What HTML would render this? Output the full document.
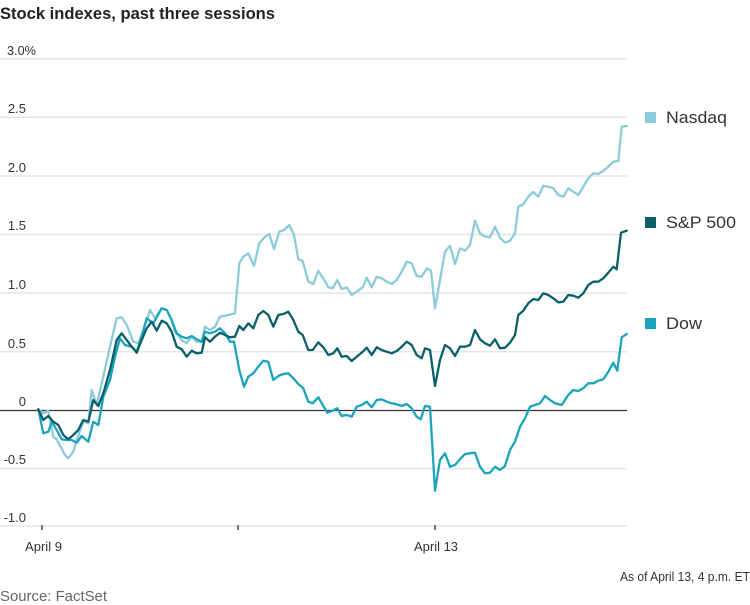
<!DOCTYPE html>
<html><head><meta charset="utf-8"><style>
html,body{margin:0;padding:0;background:#fff;width:750px;height:605px;overflow:hidden}
svg{display:block}
text{font-family:"Liberation Sans",sans-serif}
</style></head><body>
<svg width="750" height="605" viewBox="0 0 750 605" xmlns="http://www.w3.org/2000/svg">
<text x="0" y="19" font-size="17" font-weight="bold" fill="#222" textLength="275" lengthAdjust="spacingAndGlyphs">Stock indexes, past three sessions</text>
<g stroke="#e6e6e6" stroke-width="1.5">
<line x1="0" x2="627" y1="58.7" y2="58.7"/>
<line x1="0" x2="627" y1="117.3" y2="117.3"/>
<line x1="0" x2="627" y1="176" y2="176"/>
<line x1="0" x2="627" y1="234.5" y2="234.5"/>
<line x1="0" x2="627" y1="293" y2="293"/>
<line x1="0" x2="627" y1="351.7" y2="351.7"/>
<line x1="0" x2="627" y1="468.5" y2="468.5"/>
<line x1="0" x2="627" y1="526" y2="526"/>
</g>
<g font-size="13" fill="#333">
<text x="7" y="55" textLength="29" lengthAdjust="spacingAndGlyphs">3.0%</text>
<g text-anchor="end">
<text x="26" y="113">2.5</text>
<text x="26" y="172">2.0</text>
<text x="26" y="230">1.5</text>
<text x="26" y="289">1.0</text>
<text x="26" y="348">0.5</text>
<text x="26" y="406">0</text>
<text x="26" y="464">-0.5</text>
<text x="26" y="522">-1.0</text>
</g>
<text x="25" y="551" textLength="37" lengthAdjust="spacingAndGlyphs">April 9</text>
<text x="414" y="551" textLength="44" lengthAdjust="spacingAndGlyphs">April 13</text>
<text x="620" y="581" textLength="130" lengthAdjust="spacingAndGlyphs">As of April 13, 4 p.m. ET</text>
</g>
<text x="0" y="601" font-size="15" fill="#666" textLength="107" lengthAdjust="spacingAndGlyphs">Source: FactSet</text>
<g stroke="#777" stroke-width="2">
<line x1="42" x2="42" y1="525" y2="530"/>
<line x1="238" x2="238" y1="525" y2="530"/>
<line x1="435" x2="435" y1="525" y2="530"/>
</g>
<line x1="0" x2="627" y1="410.5" y2="410.5" stroke="#333" stroke-width="1.3"/>
<g fill="none" stroke-width="2.3" stroke-linejoin="round" stroke-linecap="round">
<polyline stroke="#8ccbd9" points="38.3,409.3 43.3,413.3 48.3,410.7 53.3,436.7 56.7,439.3 65,455 68.3,458.3 73.3,451.7 76.7,440 83.3,421.7 88.3,423.3 91.7,390 96.7,405 101.7,383.3 110,346.7 116.7,318.3 121.7,317.3 126.7,325 133.3,341.7 138.3,343.3 143.3,330 150,310 155,318.3 161.7,308.3 166.7,310 171.7,320 175,331.7 181.7,340 186.7,343.3 191.7,336.7 196.7,341.7 201.7,341.7 205,326.7 210,330 215,326.7 220,316.7 228.3,315 235,313.3 239.3,263.3 243.3,256.7 248.3,253.3 254,266 259.3,243.3 265,236.7 269.3,234 274,249 279.3,231.7 284,230 289.3,225 294,235 298.3,259.3 302.7,261 308.3,281.7 313.3,284 318.3,271 323.3,278.3 328.3,287.3 332.7,288.3 337.3,280 341.7,289 346.7,287.3 351.7,295 356.7,291.7 362.7,287.3 366.7,277.7 371.7,287.3 376.7,276.7 381.7,278.3 386.7,281.7 391.7,284 396.7,280 401.7,271.7 406.7,261.7 411.7,263.3 416.7,276 421.7,276.7 426.7,268.3 431,270.7 435,308.3 440,280 445,251.7 450,245.7 455,264 460,248.3 465,250.7 470,245 475,220.7 480,233.3 485,236.7 490,237.3 495,226.7 500,237.7 505,242.7 510,240.7 515,233.3 518.3,206.7 523.3,204.3 528.3,196.7 533.3,192 538.3,196.7 543.3,185.7 548.3,186.7 553.3,188.3 558.3,195 563.3,196.7 568.3,188.3 573.3,191.7 578.3,195 583.3,186.7 588.3,178.3 593.3,173.3 598.3,174 603.3,170.7 608.3,166.7 613.3,161.7 618.3,161 621.7,126.7 626.7,126"/>
<polyline stroke="#1aa4bb" points="38.3,409.3 43.3,433.3 48.3,431.7 51.7,421.7 56.7,430 61.7,439.3 66.7,440 71.7,440 76.7,442.7 81.7,436 88.3,441.7 93.3,421.7 98.3,425 103.3,396.7 110,380 115,356.7 120,338.3 125,345 131.7,346.7 136.7,351.7 141.7,336.7 146.7,318.3 153.3,323.3 161.7,308.3 166.7,310 171.7,320 176.7,333.3 181.7,336.7 186.7,338.3 191.7,336 196.7,339.3 201.7,341.7 205,331.7 210,333.3 215,331.7 220,328.3 225,333.3 230,341.7 234,341.7 239.3,370 244,386.7 248.3,376.7 253.3,373.3 258.3,366.7 263.3,360.7 268.3,361.7 273.3,380 278.3,376 283.3,374 288.3,373.3 293.3,378.3 298.3,384 303.3,388.3 308.3,401.7 312.7,403.3 318.3,397.3 323.3,406 327.3,412.7 332.7,410.7 337.3,408.3 341.7,416 346.7,415 351.7,416.7 356.7,406.7 361.7,405 366.7,401.7 371.7,407.3 376.7,400 381.7,399.3 386.7,401.7 391.7,403.3 396.7,404.3 401.7,406 406.7,404 411.7,408.3 416.7,416.7 420.7,419.3 425,406 430,406.7 435,490.7 440,460 445,453.3 450,466.7 455,465 460,459.3 465,454 470,453.3 475,452.7 480,466.7 485,473.3 490,472.7 495,466.7 500,470 505,466 510,450 515,441.7 520,426.7 525,418.3 530,406.7 535,405 540,403.3 545,396 550,400 555,403.3 561.7,405 568.3,395 573.3,390 578.3,391 583.3,388.3 588.3,383.3 593.3,383.3 598.3,380.7 603.3,379.3 608.3,371.7 613.3,362.7 617.3,370.7 621.7,337.3 626.7,334"/>
<polyline stroke="#0b5f69" points="38.3,409.3 43.3,420 48.3,416 53.3,421.7 58.3,425 63.3,435 68.3,439.3 73.3,435 78.3,430 83.3,420 88.3,421.7 93.3,400 98.3,406 103.3,393.3 110,370 116.7,340 121.7,333.3 126.7,340 131.7,346.7 136.7,352.7 141.7,340 146.7,328.3 151.7,321.7 156.7,330.7 161.7,320.7 166.7,323.3 171.7,331.7 176.7,346.7 181.7,349.3 186.7,356.7 191.7,350.7 196.7,353.3 201.7,352.7 205,337.3 210,341.7 215,336.7 220,332.7 225,335 230,337.3 235,336.7 239.3,326 243.3,330 248.3,323.3 253.3,328.3 258.3,315 263.3,311 268.3,315 273.3,326.7 278.3,315 283.3,314 288.3,311.7 293.3,320 298.3,331.7 302.7,335 308.3,350 312.7,350 318.3,342.3 323.3,347.3 328.3,355 333.3,353.3 337.3,348.3 341.7,356.7 346.7,356 351.7,361 356.7,356.7 362.7,351.7 366.7,347.7 371.7,355 376.7,347.3 381.7,350 386.7,351.7 391.7,353.3 396.7,351 401.7,346.7 406.7,341.7 411.7,345 416.7,355 421.7,358.3 425,348.3 430,350 435,386 440,360 445,345 450,348.3 455,356 460,346.7 465,346.7 470,345 475,330 480,339.3 485,343.3 490,345.7 495,339.3 500,348.3 505,347.7 510,342.7 515,335 518.3,315 523.3,310.7 528.3,303.3 533.3,299 538.3,300 543.3,293.3 548.3,295 553.3,298.3 558.3,302.3 563.3,301.7 568.3,295 573.3,295.7 578.3,297.7 583.3,293.3 588.3,285 593.3,281.7 598.3,281.7 603.3,278.3 608.3,272.7 613.3,266.7 616.7,269.3 621,232.7 626.7,230.7"/>
</g>
<rect x="645" y="112" width="11" height="11" fill="#8ccbd9"/>
<rect x="645" y="217" width="11" height="11" fill="#0b5f69"/>
<rect x="645" y="318" width="11" height="11" fill="#1aa4bb"/>
<g font-size="17" fill="#333">
<text x="666" y="123" textLength="61" lengthAdjust="spacingAndGlyphs">Nasdaq</text>
<text x="666" y="228" textLength="70" lengthAdjust="spacingAndGlyphs">S&amp;P 500</text>
<text x="666" y="329" textLength="36" lengthAdjust="spacingAndGlyphs">Dow</text>
</g>
</svg>
</body></html>
